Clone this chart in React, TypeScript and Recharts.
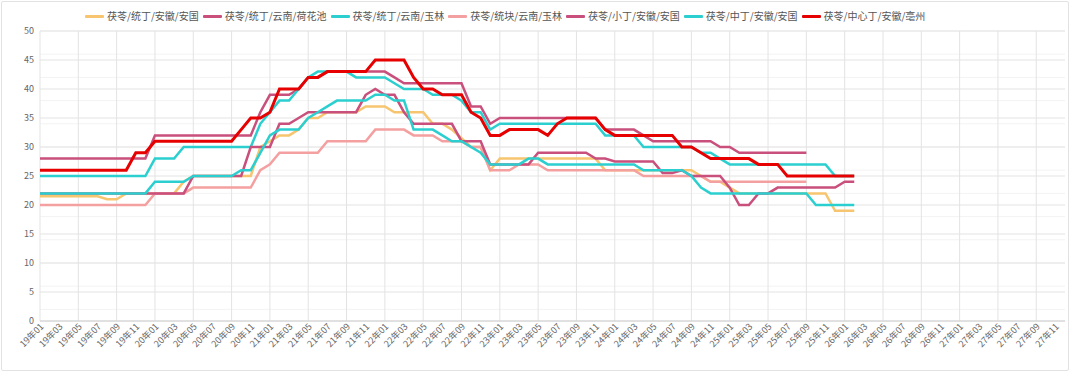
import React from "react";
import { LineChart, Line, XAxis, YAxis, CartesianGrid } from "recharts";

// categories: monthly, 19年01 .. 27年12
const years = ["19", "20", "21", "22", "23", "24", "25", "26", "27"];
const monthNums = ["01", "02", "03", "04", "05", "06", "07", "08", "09", "10", "11", "12"];
const months = years.flatMap(y => monthNums.map(m => `${y}年${m}`));
const labelMonths = months.filter((_, i) => i % 2 === 0);

const yTicks = [0, 5, 10, 15, 20, 25, 30, 35, 40, 45, 50];
const minorTicks = Array.from({ length: 51 }, (_, i) => i);

// 茯苓/统丁/安徽/安国 (19年01 - 26年02)
const tongdingAnguo = [
  21.5, 21.5, 21.5, 21.5, 21.5, 21.5, 21.5, 21, 21, 22, 22, 22,
  22, 22, 22, 24, 25, 25, 25, 25, 25, 25, 25, 30,
  31, 32, 32, 33, 35, 35, 36, 36, 36, 36, 37, 37,
  37, 36, 36, 36, 36, 34, 34, 33, 31.5, 30, 30, 26,
  28, 28, 28, 28, 28, 28, 28, 28, 28, 28, 28, 26,
  26, 26, 26, 26, 26, 26, 26, 26, 26, 25, 24, 24,
  23, 22, 22, 22, 22, 22, 22, 22, 22, 22, 22, 19,
  19, 19
];

// 茯苓/统丁/云南/荷花池 (19年01 - 25年09)
const tongdingHehuachi = [
  28, 28, 28, 28, 28, 28, 28, 28, 28, 28, 28, 28,
  32, 32, 32, 32, 32, 32, 32, 32, 32, 32, 32, 36,
  39, 39, 39, 40, 42, 42, 43, 43, 43, 43, 43, 43,
  43, 42, 41, 41, 41, 41, 41, 41, 41, 37, 37, 34,
  35, 35, 35, 35, 35, 35, 35, 35, 35, 35, 35, 33,
  33, 33, 33, 32, 31, 31, 31, 31, 31, 31, 31, 30,
  30, 29, 29, 29, 29, 29, 29, 29, 29
];

// 茯苓/统丁/云南/玉林
const tongdingYulin = [
  25, 25, 25, 25, 25, 25, 25, 25, 25, 25, 25, 25,
  28, 28, 28, 30, 30, 30, 30, 30, 30, 30, 30, 34,
  36, 38, 38, 40, 42, 43, 43, 43, 43, 42, 42, 42,
  42, 41, 40, 40, 40, 39, 39, 39, 38, 36, 36, 33,
  34, 34, 34, 34, 34, 34, 34, 34, 34, 34, 34, 32,
  32, 32, 32, 30, 30, 30, 30, 30, 30, 29, 29, 28,
  27, 27, 27, 27, 27, 27, 27, 27, 27, 27, 27, 25,
  25, 25
];

// 茯苓/统块/云南/玉林 (19年01 - 25年09)
const tongkuaiYulin = [
  20, 20, 20, 20, 20, 20, 20, 20, 20, 20, 20, 20,
  22, 22, 22, 22, 23, 23, 23, 23, 23, 23, 23, 26,
  27, 29, 29, 29, 29, 29, 31, 31, 31, 31, 31, 33,
  33, 33, 33, 32, 32, 32, 31, 31, 31, 30, 30, 26,
  26, 26, 27, 27, 27, 26, 26, 26, 26, 26, 26, 26,
  26, 26, 26, 25, 25, 25, 25, 25, 25, 25, 24, 24,
  24, 24, 24, 24, 24, 24, 24, 24, 24
];

// 茯苓/小丁/安徽/安国
const xiaodingAnguo = [
  22, 22, 22, 22, 22, 22, 22, 22, 22, 22, 22, 22,
  22, 22, 22, 22, 25, 25, 25, 25, 25, 25, 30, 30,
  30, 34, 34, 35, 36, 36, 36, 36, 36, 36, 39, 40,
  39, 39, 36, 34, 34, 34, 34, 34, 31, 31, 31, 27,
  27, 27, 27, 27, 29, 29, 29, 29, 29, 29, 28, 28,
  27.5, 27.5, 27.5, 27.5, 27.5, 25.5, 25.5, 26, 25, 25, 25, 25,
  23, 20, 20, 22, 22, 23, 23, 23, 23, 23, 23, 23,
  24, 24
];

// 茯苓/中丁/安徽/安国
const zhongdingAnguo = [
  22, 22, 22, 22, 22, 22, 22, 22, 22, 22, 22, 22,
  24, 24, 24, 24, 25, 25, 25, 25, 25, 26, 26, 29,
  32, 33, 33, 33, 35, 36, 37, 38, 38, 38, 38, 39,
  39, 38, 38, 33, 33, 33, 32, 31, 31, 30, 29, 27,
  27, 27, 27, 28, 28, 27, 27, 27, 27, 27, 27, 27,
  27, 27, 27, 26, 26, 26, 26, 26, 25, 23, 22, 22,
  22, 22, 22, 22, 22, 22, 22, 22, 22, 20, 20, 20,
  20, 20
];

// 茯苓/中心丁/安徽/亳州
const zhongxindingBozhou = [
  26, 26, 26, 26, 26, 26, 26, 26, 26, 26, 29, 29,
  31, 31, 31, 31, 31, 31, 31, 31, 31, 33, 35, 35,
  36, 40, 40, 40, 42, 42, 43, 43, 43, 43, 43, 45,
  45, 45, 45, 42, 40, 40, 39, 39, 39, 36, 35, 32,
  32, 33, 33, 33, 33, 32, 34, 35, 35, 35, 35, 33,
  32, 32, 32, 32, 32, 32, 32, 30, 30, 29, 28, 28,
  28, 28, 28, 27, 27, 27, 25, 25, 25, 25, 25, 25,
  25, 25
];

const series = [
  { key: "s1", name: "茯苓/统丁/安徽/安国", values: tongdingAnguo, color: "#f7c56f", width: 2.5 },
  { key: "s2", name: "茯苓/统丁/云南/荷花池", values: tongdingHehuachi, color: "#c94f7c", width: 2.5 },
  { key: "s3", name: "茯苓/统丁/云南/玉林", values: tongdingYulin, color: "#2ccfcf", width: 2.5 },
  { key: "s4", name: "茯苓/统块/云南/玉林", values: tongkuaiYulin, color: "#f5a0a0", width: 2.5 },
  { key: "s5", name: "茯苓/小丁/安徽/安国", values: xiaodingAnguo, color: "#c94f7c", width: 2.5 },
  { key: "s6", name: "茯苓/中丁/安徽/安国", values: zhongdingAnguo, color: "#2ccfcf", width: 2.5 },
  { key: "s7", name: "茯苓/中心丁/安徽/亳州", values: zhongxindingBozhou, color: "#e60000", width: 3 }
];

const chartData = months.map((m, i) => {
  const row: Record<string, string | number | null> = { month: m };
  series.forEach(s => {
    row[s.key] = i < s.values.length ? s.values[i] : null;
  });
  return row;
});

const FONT = "'Noto Sans CJK SC', 'Noto Sans', sans-serif";

const XTick = (props: any) => {
  const { x, y, payload } = props;
  return (
    <text
      x={x}
      y={y}
      dy={6}
      transform={`rotate(-45 ${x} ${y})`}
      textAnchor="end"
      fontSize={9}
      fill="#666"
      fontFamily={FONT}
    >
      {payload.value}
    </text>
  );
};

const App: React.FC = () => {
  return (
    <div style={{ position: "relative", width: 1080, height: 374, background: "#fff", fontFamily: FONT }}>
      <style>{"body{margin:0}"}</style>
      <div
        style={{
          position: "absolute",
          left: 1,
          top: 1,
          width: 1066,
          height: 368,
          border: "1px solid #e2e2e2",
          borderRadius: 2
        }}
      />

      <div
        style={{
          position: "absolute",
          left: 85,
          top: 9,
          display: "flex",
          alignItems: "center",
          whiteSpace: "nowrap",
          zIndex: 2
        }}
      >
        {series.map(s => (
          <div key={s.key} style={{ display: "flex", alignItems: "center", marginRight: 4 }}>
            <div style={{ width: 19, height: 3, background: s.color, borderRadius: 1, marginRight: 3 }} />
            <span style={{ fontSize: 10, color: "#555", lineHeight: "14px" }}>{s.name}</span>
          </div>
        ))}
      </div>

      <LineChart
        width={1080}
        height={374}
        data={chartData}
        margin={{ top: 31, right: 15, bottom: 0, left: 0 }}
      >
        <CartesianGrid horizontalValues={minorTicks} vertical={false} stroke="#f3f3f3" />
        <CartesianGrid horizontalValues={yTicks} verticalValues={labelMonths} stroke="#e3e3e3" />
        <XAxis
          dataKey="month"
          interval={1}
          height={53}
          tickLine={false}
          tickSize={0}
          tickMargin={2}
          stroke="#d0d0d0"
          tick={<XTick />}
        />
        <YAxis
          domain={[0, 50]}
          ticks={yTicks}
          width={40}
          axisLine={false}
          tickLine={false}
          tickSize={0}
          tickMargin={6}
          tick={{ fontSize: 9, fill: "#666", fontFamily: FONT }}
        />
        {series.map(s => (
          <Line
            key={s.key}
            type="linear"
            dataKey={s.key}
            name={s.name}
            stroke={s.color}
            strokeWidth={s.width}
            dot={false}
            activeDot={false}
            isAnimationActive={false}
          />
        ))}
      </LineChart>
    </div>
  );
};

export default App;
